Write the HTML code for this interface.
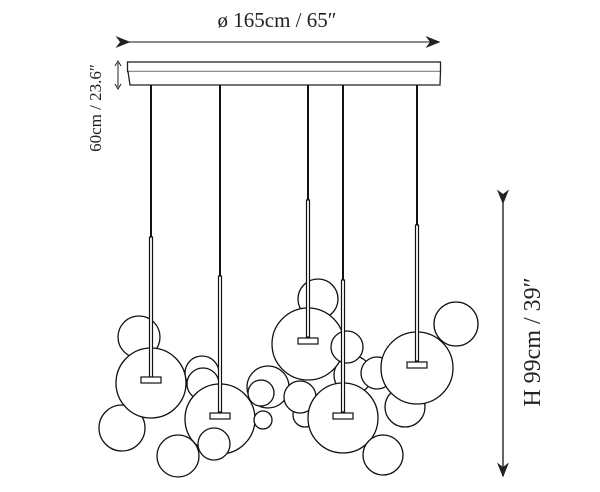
<!DOCTYPE html>
<html><head><style>html,body{margin:0;padding:0;background:#fff}</style></head><body>
<svg width="600" height="487" viewBox="0 0 600 487" xmlns="http://www.w3.org/2000/svg">
<defs><marker id="a" markerWidth="10" markerHeight="8" refX="9" refY="4" orient="auto"><path d="M0,0 L10,4 L0,8 L3,4z" fill="#222"/></marker></defs>
<text x="277" y="27" font-family="Liberation Serif, serif" font-size="21" text-anchor="middle" fill="#222">ø 165cm / 65″</text>
<line x1="129" y1="42" x2="439" y2="42" stroke="#666" stroke-width="1.5" marker-end="url(#a)" marker-start="url(#a)"/>
<line x1="118" y1="63" x2="118" y2="87" stroke="#222" stroke-width="1"/>
<path d="M115,66 L118,61 L121,66 M115,84 L118,89 L121,84" fill="none" stroke="#222"/>
<text transform="translate(101,108) rotate(-90)" font-family="Liberation Serif, serif" font-size="17" text-anchor="middle" fill="#222">60cm / 23.6″</text>
<rect x="127.5" y="62" width="313" height="9.5" fill="#fff" stroke="#222" stroke-width="1.3"/>
<path d="M128,71.5 L130,85 L440,85 L440.5,71.5" fill="#fff" stroke="#222" stroke-width="1.3"/>
<line x1="503" y1="203" x2="503" y2="476" stroke="#333" stroke-width="1.5" marker-end="url(#a)" marker-start="url(#a)"/>
<text transform="translate(540,342) rotate(-90)" font-family="Liberation Serif, serif" font-size="24" text-anchor="middle" fill="#222">H 99cm / 39″</text>
<g fill="#fff" stroke="#111" stroke-width="1.3">
<circle cx="139" cy="337" r="21"/>
<circle cx="318" cy="299" r="20"/>
<circle cx="456" cy="324" r="22"/>
<circle cx="202" cy="373" r="17"/>
<circle cx="268" cy="387" r="21"/>
<circle cx="261" cy="393" r="13"/>
<circle cx="353" cy="375" r="19"/>
<circle cx="305" cy="415" r="12"/>
<circle cx="405" cy="407" r="20"/>
<circle cx="122" cy="428" r="23"/>
<circle cx="151" cy="383" r="35"/>
<circle cx="203" cy="384" r="16"/>
<circle cx="220" cy="419" r="35"/>
<circle cx="178" cy="456" r="21"/>
<circle cx="214" cy="444" r="16"/>
<circle cx="263" cy="420" r="9"/>
<circle cx="300" cy="397" r="16"/>
<circle cx="308" cy="344" r="36"/>
<circle cx="377" cy="373" r="16"/>
<circle cx="417" cy="368" r="36"/>
<circle cx="343" cy="418" r="35"/>
<circle cx="347" cy="347" r="16"/>
<circle cx="383" cy="455" r="20"/>
</g>
<g stroke="#111" stroke-width="2">
<line x1="151" y1="85" x2="151" y2="237"/>
<line x1="220" y1="85" x2="220" y2="276"/>
<line x1="308" y1="85" x2="308" y2="200"/>
<line x1="343" y1="85" x2="343" y2="280"/>
<line x1="417" y1="85" x2="417" y2="225"/>
</g>
<g fill="#fff" stroke="#111" stroke-width="1.2">
<rect x="149.5" y="237" width="3" height="140"/>
<rect x="218.5" y="276" width="3" height="136"/>
<rect x="306.5" y="200" width="3" height="137"/>
<rect x="341.5" y="280" width="3" height="132"/>
<rect x="415.5" y="225" width="3" height="136"/>
<rect x="141" y="377" width="20" height="6"/>
<rect x="210" y="413" width="20" height="6"/>
<rect x="298" y="338" width="20" height="6"/>
<rect x="333" y="413" width="20" height="6"/>
<rect x="407" y="362" width="20" height="6"/>
</g>
</svg>
</body></html>
